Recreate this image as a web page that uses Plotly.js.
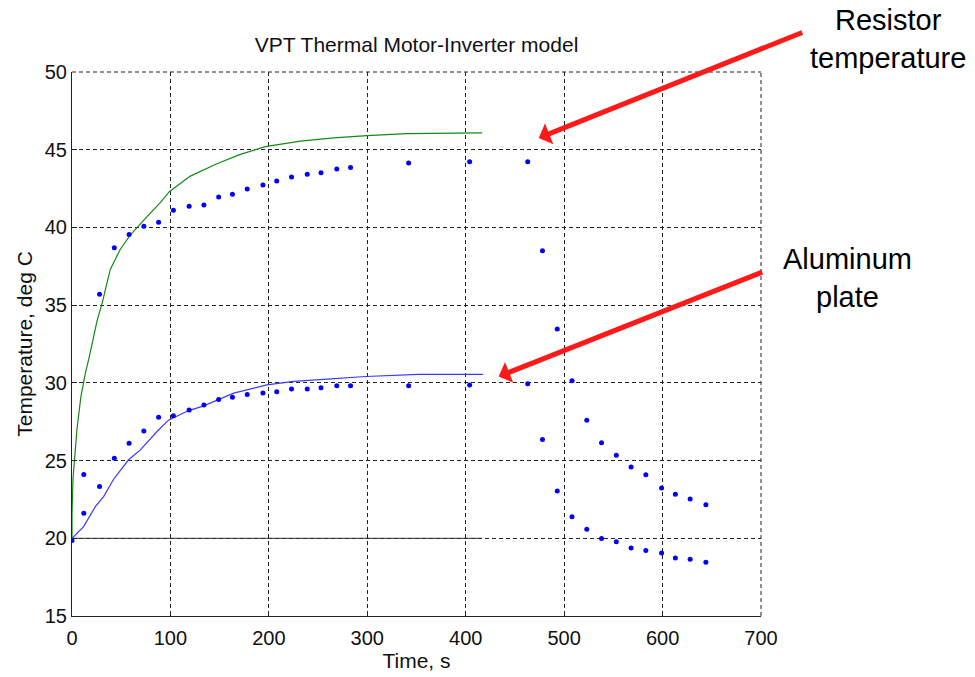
<!DOCTYPE html>
<html>
<head>
<meta charset="utf-8">
<script src="https://cdn.plot.ly/plotly-3.0.1.min.js"></script>
<style>html,body{margin:0;padding:0;background:#fff;}#chart{width:975px;height:677px;}</style>
</head>
<body>
<div id="chart"></div>
<script>
// Measured data (dots)
const tResistor = [12, 28, 43, 58, 73, 88, 103, 119, 134, 149, 163, 178, 194, 208, 223, 239, 253, 269, 283, 342, 404, 463, 478, 493, 508, 523, 538, 553, 568, 583, 599, 613, 628, 644];
const resistorMeasured = [24.1, 35.7, 38.7, 39.55, 40.07, 40.33, 41.1, 41.36, 41.45, 41.96, 42.13, 42.48, 42.73, 42.99, 43.25, 43.42, 43.51, 43.76, 43.85, 44.15, 44.23, 44.23, 38.5, 33.46, 30.13, 27.6, 26.14, 25.35, 24.59, 24.08, 23.24, 22.83, 22.53, 22.15];
const tPlate = [0, 12, 28, 43, 58, 73, 88, 103, 119, 134, 149, 163, 178, 194, 208, 223, 239, 253, 269, 283, 342, 404, 463, 478, 493, 508, 523, 538, 553, 568, 583, 599, 613, 628, 644];
const plateMeasured = [19.85, 21.61, 23.33, 25.15, 26.12, 26.91, 27.79, 27.88, 28.26, 28.57, 28.93, 29.08, 29.25, 29.34, 29.42, 29.6, 29.6, 29.68, 29.81, 29.81, 29.81, 29.87, 29.94, 26.35, 23.05, 21.39, 20.58, 19.98, 19.78, 19.38, 19.21, 19.06, 18.73, 18.65, 18.46];

// Model curves
const tResModel = [0, 0, 1, 5, 9, 13.5, 18, 21.5, 25.5, 30.5, 38.9, 49.1, 59.2, 76.2, 89.7, 98.9, 120.2, 147.3, 171, 196.4, 232, 265.9, 299.8, 339.7, 380, 416.7];
const resModel = [20, 21.6, 23.8, 27.0, 29.1, 30.6, 31.8, 32.9, 34.0, 35.1, 37.3, 38.6, 39.5, 40.7, 41.6, 42.3, 43.3, 44.1, 44.7, 45.2, 45.55, 45.76, 45.91, 46.03, 46.06, 46.08];
const tPlateModel = [0, 11.8, 23.7, 32.1, 42.3, 57.5, 69.4, 86.4, 98, 118, 133.7, 164.3, 198, 225.2, 259.1, 298.4, 352, 417.7];
const plateModel = [20, 20.75, 22.04, 22.68, 23.8, 25.05, 25.69, 26.87, 27.6, 28.2, 28.52, 29.34, 29.87, 30.09, 30.24, 30.41, 30.55, 30.55];
const tAmbient = [0, 416.7];
const ambient = [20, 20];

const xTicks = [0, 100, 200, 300, 400, 500, 600, 700];
const yTicks = [15, 20, 25, 30, 35, 40, 45, 50];

const font = 'Arial, Liberation Sans, sans-serif';
const gridDash = '4px,3px';

const traces = [
  {x: tAmbient, y: ambient, mode: 'lines', line: {color: '#333333', width: 1}, hoverinfo: 'skip'},
  {x: tResModel, y: resModel, mode: 'lines', line: {color: '#138a13', width: 1.2}},
  {x: tPlateModel, y: plateModel, mode: 'lines', line: {color: '#3a3aff', width: 1.2}},
  {x: tResistor, y: resistorMeasured, mode: 'markers', marker: {color: '#0000ff', size: 5}},
  {x: tPlate, y: plateMeasured, mode: 'markers', marker: {color: '#0000ff', size: 5}}
];

const axCommon = {
  showgrid: true, gridcolor: '#222222', gridwidth: 1, griddash: gridDash,
  zeroline: false, showline: true, linecolor: '#222222', linewidth: 1, mirror: false,
  ticks: 'inside', ticklen: 5, tickcolor: '#222222',
  tickfont: {family: font, size: 20, color: '#111111'},
  fixedrange: true
};

const layout = {
  width: 975, height: 677,
  margin: {l: 72, r: 214, t: 72, b: 61},
  paper_bgcolor: '#ffffff', plot_bgcolor: '#ffffff',
  showlegend: false,
  title: {text: 'VPT Thermal Motor-Inverter model', font: {family: font, size: 21, color: '#111111'}, x: 0.5, xref: 'paper', xanchor: 'center', y: 0.934, yanchor: 'middle'},
  xaxis: Object.assign({}, axCommon, {range: [0, 700], tickvals: xTicks, ticktext: xTicks.map(String), ticklabelstandoff: 4,
    title: {text: 'Time, s', font: {family: font, size: 21, color: '#111111'}, standoff: 3}}),
  yaxis: Object.assign({}, axCommon, {range: [15, 50], tickvals: yTicks, ticktext: yTicks.map(String),
    title: {text: 'Temperature, deg C', font: {family: font, size: 21, color: '#111111'}, standoff: 6}}),
  shapes: [
    {type: 'line', xref: 'paper', yref: 'paper', x0: 0, x1: 1, y0: 1, y1: 1, line: {color: '#222222', width: 1, dash: gridDash}},
    {type: 'line', xref: 'paper', yref: 'paper', x0: 1, x1: 1, y0: 0, y1: 1, line: {color: '#222222', width: 1, dash: gridDash}}
  ],
  annotations: [
    {x: 474.2, y: 45.76, xref: 'x', yref: 'y', ax: 265, ay: -106, axref: 'pixel', ayref: 'pixel', text: '', showarrow: true,
     arrowhead: 1, arrowsize: 0.75, arrowwidth: 5, arrowcolor: '#ff1a1a', standoff: 0},
    {x: 433.5, y: 30.41, xref: 'x', yref: 'y', ax: 265, ay: -105, axref: 'pixel', ayref: 'pixel', text: '', showarrow: true,
     arrowhead: 1, arrowsize: 0.75, arrowwidth: 5, arrowcolor: '#ff1a1a', standoff: 0},
    {x: 1.184, y: 1.06, xref: 'paper', yref: 'paper', xanchor: 'center', yanchor: 'middle', showarrow: false,
     text: 'Resistor<br>temperature', font: {family: font, size: 29, color: '#000000'}},
    {x: 1.126, y: 0.622, xref: 'paper', yref: 'paper', xanchor: 'center', yanchor: 'middle', showarrow: false,
     text: 'Aluminum<br>plate', font: {family: font, size: 29, color: '#000000'}}
  ]
};

Plotly.newPlot('chart', traces, layout, {staticPlot: true, displayModeBar: false});
</script>
</body>
</html>
